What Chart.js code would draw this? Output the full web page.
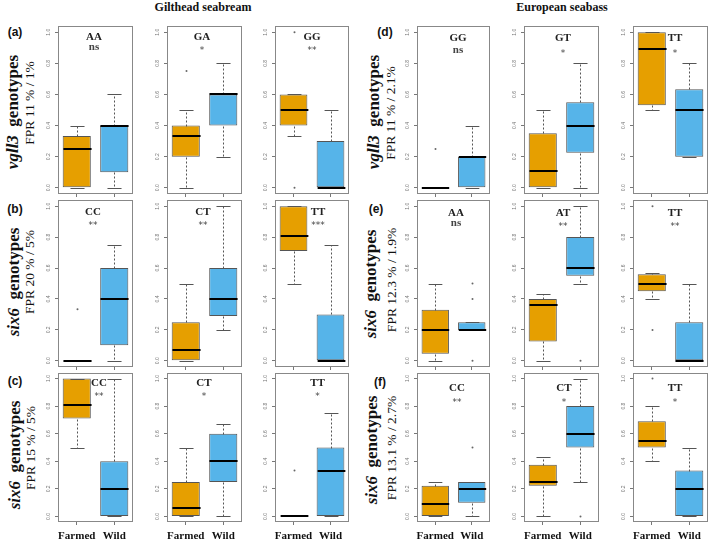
<!DOCTYPE html>
<html>
<head>
<meta charset="utf-8">
<script src="https://cdn.jsdelivr.net/npm/chart.js@4.4.1/dist/chart.umd.min.js"></script>
<style>
  body { margin: 0; background: #fff; }
  #wrap { position: relative; width: 709px; height: 539px; overflow: hidden; font-family: 'Liberation Serif', serif; color: #111; }
  .abs { position: absolute; white-space: nowrap; transform: translate(-50%, -50%); line-height: 1; }
  .rot { transform: translate(-50%, -50%) rotate(-90deg); }
  .panel { position: absolute; }
</style>
</head>
<body>
<div id="wrap"></div>
<script>
const groups = ['Farmed', 'Wild'];
const yTicks = [0, 0.2, 0.4, 0.6, 0.8, 1.0];
const species = ['Gilthead seabream', 'European seabass'];
const panelLetters = ['(a)', '(b)', '(c)', '(d)', '(e)', '(f)'];
const genes = ['vgll3', 'six6', 'six6', 'vgll3', 'six6', 'six6'];
const fprLabels = ['FPR 11 % / 1%', 'FPR 20 % / 5%', 'FPR 15 % / 5%', 'FPR 11 % / 2.1%', 'FPR 12.3 % / 1.9%', 'FPR 13.1 % / 2.7%'];
const genotypes = [
  ['AA', 'GA', 'GG'], ['CC', 'CT', 'TT'], ['CC', 'CT', 'TT'],
  ['GG', 'GT', 'TT'], ['AA', 'AT', 'TT'], ['CC', 'CT', 'TT']
];
const significance = [
  ['ns', '*', '**'], ['**', '**', '***'], ['**', '*', '*'],
  ['ns', '*', '*'], ['ns', '**', '**'], ['**', '*', '*']
];
// five-number summaries: [min, q1, median, q3, max]
const farmedStats = [
  [[0, 0, 0.25, 0.333, 0.4], [0, 0.2, 0.333, 0.4, 0.5], [0.333, 0.4, 0.5, 0.6, 0.6]],
  [[0, 0, 0, 0, 0], [0, 0, 0.067, 0.25, 0.5], [0.5, 0.71, 0.81, 1, 1]],
  [[0.5, 0.71, 0.81, 1, 1], [0, 0, 0.0625, 0.25, 0.5], [0, 0, 0, 0, 0]],
  [[0, 0, 0, 0, 0], [0, 0, 0.111, 0.35, 0.5], [0.5, 0.53, 0.89, 1, 1]],
  [[0, 0.045, 0.2, 0.33, 0.5], [0, 0.125, 0.364, 0.4, 0.43], [0.4, 0.45, 0.5, 0.56, 0.571]],
  [[0, 0, 0.09, 0.222, 0.25], [0, 0.222, 0.25, 0.375, 0.429], [0.4, 0.5, 0.545, 0.69, 0.8]]
];
const wildStats = [
  [[0, 0.1, 0.4, 0.4, 0.6], [0.2, 0.4, 0.6, 0.6, 0.8], [0, 0, 0, 0.3, 0.5]],
  [[0, 0.1, 0.4, 0.6, 0.75], [0.2, 0.29, 0.4, 0.6, 1], [0, 0, 0, 0.3, 0.75]],
  [[0, 0, 0.2, 0.4, 1], [0, 0.25, 0.4, 0.6, 0.667], [0, 0, 0.333, 0.5, 0.75]],
  [[0, 0, 0.2, 0.2, 0.4], [0, 0.225, 0.4, 0.55, 0.8], [0.2, 0.2, 0.5, 0.633, 0.8]],
  [[0.2, 0.2, 0.2, 0.25, 0.25], [0.5, 0.55, 0.6, 0.8, 1], [0, 0, 0, 0.25, 0.5]],
  [[0, 0.1, 0.2, 0.25, 0.25], [0.25, 0.5, 0.6, 0.8, 1], [0, 0, 0.2, 0.333, 0.5]]
];
const farmedOutliers = [
  [[], [0.75], [1, 0]], [[0.333], [], []], [[], [], [0.333]],
  [[0.25], [], []], [[], [], [1, 0.2]], [[], [], [1]]
];
const wildOutliers = [
  [[], [], []], [[], [], []], [[], [], []],
  [[], [], []], [[0.5, 0.4, 0], [0], []], [[0.5], [0], []]
];

// layout (pixels)
const colX = [[58, 133], [167, 242], [275, 349], [417, 490], [524, 599], [633, 708]];
const rowY = [[26, 194], [200, 367], [373, 522]];
const titleDy = [10, 11, 9, 11, 12, 14];
const sigGap = [11, 11, 11, 13, 11, 12];
const titleDx = [[36, 35, 37], [35, 36, 43], [41, 37, 42.5], [41, 39, 42], [39, 39, 42], [40, 40, 42]];
const rowLabelPos = [
  [12, 112, 30, 103], [13, 282, 30, 272], [14, 455, 31, 448],
  [373, 112, 391, 113], [370, 284, 392, 280], [371, 450, 392, 448]
];
const letterPos = [[15, 32], [15, 209], [15, 381], [385, 32], [376, 209], [380, 382]];
const speciesPos = [[203, 7], [562, 7]];

const wrap = document.getElementById('wrap');

function addText(html, x, y, style, rotate) {
  const d = document.createElement('div');
  d.className = rotate ? 'abs rot' : 'abs';
  d.style.left = x + 'px';
  d.style.top = y + 'px';
  d.style.cssText += style;
  d.innerHTML = html;
  wrap.appendChild(d);
}

species.forEach((s, i) => addText(s, speciesPos[i][0], speciesPos[i][1], 'font-weight:bold;font-size:12px;'));
panelLetters.forEach((s, i) => addText(s, letterPos[i][0], letterPos[i][1], 'font-family:"Liberation Sans";font-weight:bold;font-size:12px;'));
genes.forEach((g, i) => {
  const p = rowLabelPos[i];
  addText('<i>' + g + '</i>&nbsp; genotypes', p[0], p[1], 'font-weight:bold;font-size:17px;', true);
  addText(fprLabels[i], p[2], p[3], 'font-size:13.5px;', true);
});

function boxPlugin(p) {
  return {
    id: 'boxExtras',
    afterDatasetsDraw(chart) {
      const { ctx, scales: { x, y } } = chart;
      const meta = chart.getDatasetMeta(0);
      const py = v => Math.round(y.getPixelForValue(v)) + 0.5;
      [p.farmed, p.wild].forEach((s, i) => {
        const cx = Math.round(x.getPixelForValue(i)) + 0.5;
        const w = meta.data[i].width;
        ctx.save();
        ctx.strokeStyle = '#555';
        ctx.lineWidth = 1;
        ctx.setLineDash([2, 2]);
        ctx.beginPath();
        if (s[4] > s[3]) { ctx.moveTo(cx, py(s[3])); ctx.lineTo(cx, py(s[4])); }
        if (s[0] < s[1]) { ctx.moveTo(cx, py(s[1])); ctx.lineTo(cx, py(s[0])); }
        ctx.stroke();
        ctx.setLineDash([]);
        ctx.beginPath();
        [s[0], s[4]].forEach(v => { ctx.moveTo(cx - w / 4, py(v)); ctx.lineTo(cx + w / 4, py(v)); });
        ctx.stroke();
        ctx.strokeStyle = '#000';
        ctx.lineWidth = 2;
        ctx.beginPath();
        ctx.moveTo(cx - w / 2, Math.round(y.getPixelForValue(s[2])));
        ctx.lineTo(cx + w / 2, Math.round(y.getPixelForValue(s[2])));
        ctx.stroke();
        ctx.fillStyle = '#666';
        p.outliers[i].forEach(v => {
          ctx.beginPath();
          ctx.arc(cx, y.getPixelForValue(v), 1, 0, Math.PI * 2);
          ctx.fill();
        });
        ctx.restore();
      });
    },
    afterDraw(chart) {
      const { ctx, chartArea: a, scales: { y } } = chart;
      ctx.save();
      ctx.strokeStyle = '#888';
      ctx.lineWidth = 1;
      ctx.strokeRect(a.left + 0.5, a.top + 0.5, a.right - a.left - 1, a.bottom - a.top - 1);
      ctx.fillStyle = '#777';
      ctx.font = '5px "Liberation Sans"';
      ctx.textAlign = 'center';
      ctx.textBaseline = 'middle';
      yTicks.forEach(v => {
        ctx.save();
        ctx.translate(a.left - 9, y.getPixelForValue(v));
        ctx.rotate(-Math.PI / 2);
        ctx.fillText(v.toFixed(1), 0, 0);
        ctx.restore();
      });
      ctx.fillStyle = '#222';
      ctx.textBaseline = 'alphabetic';
      ctx.font = 'bold 11px "Liberation Serif"';
      const tx = a.left + p.dx;
      const ty = a.top + p.dy;
      ctx.fillText(p.title, tx, ty + 4);
      ctx.fillStyle = '#444';
      if (p.sig === 'ns') {
        ctx.fillText(p.sig, tx, ty + p.gap + 3);
      } else {
        ctx.font = '9px "DejaVu Sans"';
        ctx.fillText(p.sig, tx, ty + p.gap + 6);
      }
      ctx.restore();
    }
  };
}

for (let r = 0; r < 6; r++) {
  const sp = r < 3 ? 0 : 1;
  const ri = r % 3;
  const bottom = ri === 2;
  for (let c = 0; c < 3; c++) {
    const [x0, x1] = colX[sp * 3 + c];
    const [y0, y1] = rowY[ri];
    const holder = document.createElement('div');
    holder.className = 'panel';
    holder.style.left = (x0 - 24) + 'px';
    holder.style.top = (y0 - 8) + 'px';
    const canvas = document.createElement('canvas');
    canvas.width = x1 - x0 + 30;
    canvas.height = y1 - y0 + 8 + (bottom ? 30 : 6);
    holder.appendChild(canvas);
    wrap.appendChild(holder);

    const f = farmedStats[r][c];
    const w = wildStats[r][c];
    new Chart(canvas, {
      type: 'bar',
      data: {
        labels: groups,
        datasets: [{
          data: [[f[1], f[3]], [w[1], w[3]]],
          backgroundColor: ['#E69F00', '#56B4E9'],
          borderColor: '#555',
          borderWidth: 1,
          borderSkipped: false,
          barPercentage: 0.75,
          categoryPercentage: 1
        }]
      },
      options: {
        responsive: false,
        animation: false,
        devicePixelRatio: 1,
        layout: { padding: { top: 8, right: 6, left: 0, bottom: 0 } },
        plugins: { legend: { display: false }, tooltip: { enabled: false } },
        scales: {
          x: {
            offset: true,
            grid: { offset: false, drawOnChartArea: false, tickLength: 3, color: '#777' },
            border: { display: false },
            ticks: {
              display: bottom,
              autoSkip: false,
              maxRotation: 0,
              minRotation: 0,
              padding: 5,
              color: '#111',
              font: { family: 'Liberation Serif', weight: 'bold', size: 11 }
            },
            afterFit: s => { s.height = bottom ? 30 : 6; }
          },
          y: {
            min: -0.04,
            max: 1.04,
            afterBuildTicks: s => { s.ticks = yTicks.map(v => ({ value: v })); },
            ticks: { display: false },
            grid: { drawOnChartArea: false, tickLength: 3, color: '#777' },
            border: { display: false },
            afterFit: s => { s.width = 24; }
          }
        }
      },
      plugins: [boxPlugin({
        farmed: f,
        wild: w,
        outliers: [farmedOutliers[r][c], wildOutliers[r][c]],
        title: genotypes[r][c],
        sig: significance[r][c],
        dx: titleDx[r][c],
        dy: titleDy[r],
        gap: sigGap[r]
      })]
    });
  }
}
</script>
</body>
</html>
